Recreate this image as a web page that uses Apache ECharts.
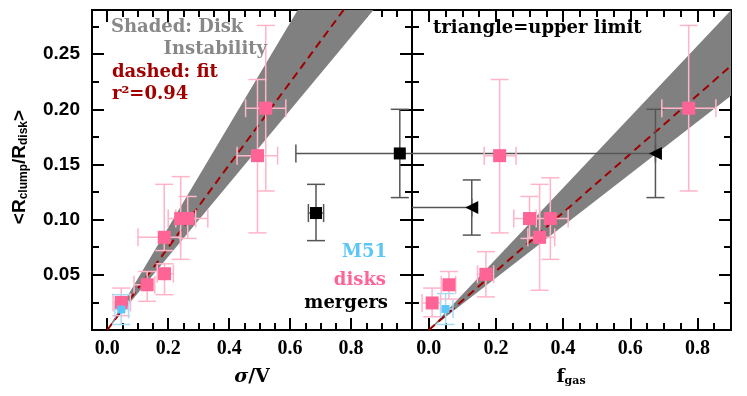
<!DOCTYPE html>
<html>
<head>
<meta charset="utf-8">
<script src="https://cdn.jsdelivr.net/npm/echarts@6/dist/echarts.min.js"></script>
<style>html,body{margin:0;padding:0;background:#fff}#main{width:747px;height:396px}</style>
</head>
<body>
<div id="main"></div>
<script>
// each row: [x, y, xLow, xHigh, yLow, yHigh]
const disksSigma = [
  [0.046, 0.025, 0.019, 0.076, 0.013, 0.038],
  [0.131, 0.041, 0.088, 0.156, 0.026, 0.053],
  [0.188, 0.051, 0.164, 0.217, 0.032, 0.060],
  [0.187, 0.084, 0.101, 0.240, 0.072, 0.132],
  [0.241, 0.101, 0.200, 0.290, 0.064, 0.139],
  [0.264, 0.101, 0.225, 0.330, 0.083, 0.121],
  [0.493, 0.158, 0.426, 0.559, 0.088, 0.227],
  [0.520, 0.201, 0.454, 0.586, 0.126, 0.276]
];
const m51Sigma = [[0.046, 0.0186, 0.025, 0.070, 0.005, 0.032]];
const mergersSigma = [
  [0.685, 0.106, 0.660, 0.710, 0.081, 0.132],
  [0.960, 0.160, 0.619, 1.300, 0.120, 0.200]
];
const disksFgas = [
  [0.010, 0.0245, -0.020, 0.035, 0.012, 0.038],
  [0.060, 0.041, 0.037, 0.080, 0.028, 0.053],
  [0.170, 0.0505, 0.145, 0.193, 0.030, 0.071],
  [0.211, 0.158, 0.165, 0.260, 0.088, 0.227],
  [0.300, 0.101, 0.253, 0.330, 0.083, 0.121],
  [0.362, 0.101, 0.320, 0.415, 0.064, 0.138],
  [0.330, 0.084, 0.295, 0.375, 0.036, 0.132],
  [0.774, 0.201, 0.694, 0.855, 0.126, 0.276]
];
const m51Fgas = [[0.050, 0.019, 0.035, 0.072, 0.005, 0.033]];
// mergers are upper limits in f_gas
const mergersFgas = [
  [0.128, 0.111, -0.200, 0.128, 0.086, 0.136],
  [0.675, 0.160, -0.200, 0.675, 0.120, 0.200]
];
// fit slope and disk-instability band (slopes through the origin)
const fitSigma = 0.374, bandSigma = [0.332, 0.464];
const fitFgas = 0.266, bandFgas = [0.236, 0.322];

const xLabels = [0, 0.2, 0.4, 0.6, 0.8];
const yLabels = [0.05, 0.10, 0.15, 0.20, 0.25];
const xRangeSigma = [-0.05, 1.0];
const xRangeFgas = [-0.05, 0.9];
const yRange = [0, 0.29];

const PINK = '#ff6496', PINK_ERR = '#ffb4c8';
const BLUE = '#5cc6f8', BLUE_ERR = '#a8dcf6';
const DARKRED = '#a00000';

function steps(a, b, s) {
  const out = [];
  for (let v = a; v <= b + 1e-9; v += s) out.push(+v.toFixed(4));
  return out;
}

const noLine = {show: false, onZero: false};
function tick(vals, len) {
  return {inside: true, length: len, customValues: vals, lineStyle: {color: '#000', width: 2}};
}

function xAxes(grid, range) {
  const major = steps(0, range[1], 0.2);
  const minor = steps(range[0], range[1], 0.05);
  const base = {type: 'value', gridIndex: grid, min: range[0], max: range[1],
    axisLine: noLine, splitLine: {show: false}};
  return [
    Object.assign({}, base, {position: 'bottom', axisTick: tick(major, 12),
      axisLabel: {customValues: xLabels, formatter: v => v.toFixed(1), margin: 9,
        fontFamily: 'Liberation Serif', fontWeight: 'bold', fontSize: 20, color: '#000'}}),
    Object.assign({}, base, {position: 'bottom', axisTick: tick(minor, 7), axisLabel: {show: false}}),
    Object.assign({}, base, {position: 'top', axisTick: tick(major, 12), axisLabel: {show: false}}),
    Object.assign({}, base, {position: 'top', axisTick: tick(minor, 7), axisLabel: {show: false}})
  ];
}

function yAxes(grid, showLabels) {
  const major = steps(0, yRange[1], 0.05);
  const minor = steps(0, yRange[1], 0.025);
  const base = {type: 'value', gridIndex: grid, min: yRange[0], max: yRange[1],
    axisLine: noLine, splitLine: {show: false}};
  return [
    Object.assign({}, base, {position: 'left', axisTick: tick(major, 12),
      axisLabel: showLabels ? {customValues: yLabels, formatter: v => v.toFixed(2), margin: 12,
        fontFamily: 'Liberation Sans', fontWeight: 'bold', fontSize: 19, color: '#000'} : {show: false}}),
    Object.assign({}, base, {position: 'left', axisTick: tick(minor, 7), axisLabel: {show: false}}),
    Object.assign({}, base, {position: 'right', axisTick: tick(major, 12), axisLabel: {show: false}}),
    Object.assign({}, base, {position: 'right', axisTick: tick(minor, 7), axisLabel: {show: false}})
  ];
}

// x axis 0 = left panel, x axis 4 = right panel; same for y
function band(xi, slopes, xmax) {
  return {
    type: 'custom', xAxisIndex: xi, yAxisIndex: xi, clip: true, silent: true, z: 1,
    data: [[0, 0]],
    renderItem: (params, api) => {
      const pts = [api.coord([0, 0]), api.coord([xmax, slopes[1] * xmax]), api.coord([xmax, slopes[0] * xmax])];
      return {type: 'polygon', shape: {points: pts}, style: {fill: '#808080'}};
    }
  };
}

function fitLine(xi, slope, xmax) {
  return {
    type: 'line', xAxisIndex: xi, yAxisIndex: xi, z: 2, showSymbol: false, silent: true,
    data: [[0, 0], [xmax, slope * xmax]],
    lineStyle: {color: DARKRED, width: 2, type: [8, 5]}
  };
}

function errors(xi, data, color) {
  return {
    type: 'custom', xAxisIndex: xi, yAxisIndex: xi, clip: true, silent: true, z: 3,
    data: data, encode: {x: 0, y: 1},
    renderItem: (params, api) => {
      const c = api.coord([api.value(0), api.value(1)]);
      const xl = api.coord([api.value(2), api.value(1)])[0];
      const xh = api.coord([api.value(3), api.value(1)])[0];
      const yl = api.coord([api.value(0), api.value(4)])[1];
      const yh = api.coord([api.value(0), api.value(5)])[1];
      const h = 9;
      const segs = [
        [xl, c[1], xh, c[1]], [xl, c[1] - h, xl, c[1] + h], [xh, c[1] - h, xh, c[1] + h],
        [c[0], yl, c[0], yh], [c[0] - h, yl, c[0] + h, yl], [c[0] - h, yh, c[0] + h, yh]
      ];
      return {type: 'group', children: segs.map(s => ({
        type: 'line', shape: {x1: s[0], y1: s[1], x2: s[2], y2: s[3]},
        style: {stroke: color, lineWidth: 1.5}
      }))};
    }
  };
}

function points(xi, data, color, size, symbol, rotate) {
  return {
    type: 'scatter', xAxisIndex: xi, yAxisIndex: xi, z: 4, silent: true,
    data: data.map(d => [d[0], d[1]]),
    symbol: symbol || 'rect', symbolSize: size, symbolRotate: rotate || 0,
    itemStyle: {color: color, opacity: 1}
  };
}

const serif = 'DejaVu Serif';
function label(text, x, y, color, align) {
  return {type: 'text', x: x, y: y, z: 10, style: {text: text, fill: color,
    font: 'bold 18px "' + serif + '"', textAlign: align || 'left', textVerticalAlign: 'middle'}};
}

const chart = echarts.init(document.getElementById('main'));
chart.setOption({
  backgroundColor: '#fff',
  animation: false,
  grid: [
    {left: 92, top: 10, width: 320, height: 320, show: true, borderColor: '#000', borderWidth: 2},
    {left: 412, top: 10, width: 319, height: 320, show: true, borderColor: '#000', borderWidth: 2}
  ],
  xAxis: xAxes(0, xRangeSigma).concat(xAxes(1, xRangeFgas)),
  yAxis: yAxes(0, true).concat(yAxes(1, false)),
  series: [
    band(0, bandSigma, xRangeSigma[1]),
    fitLine(0, fitSigma, xRangeSigma[1]),
    errors(0, mergersSigma, '#555'),
    errors(0, disksSigma, PINK_ERR),
    errors(0, m51Sigma, BLUE_ERR),
    points(0, mergersSigma, '#000', 12),
    points(0, disksSigma, PINK, 13),
    points(0, m51Sigma, BLUE, 8),
    band(4, bandFgas, xRangeFgas[1]),
    fitLine(4, fitFgas, xRangeFgas[1]),
    errors(4, mergersFgas, '#555'),
    errors(4, disksFgas, PINK_ERR),
    errors(4, m51Fgas, BLUE_ERR),
    points(4, mergersFgas, '#000', 13, 'triangle', 90),
    points(4, disksFgas, PINK, 13),
    points(4, m51Fgas, BLUE, 8)
  ],
  graphic: [
    label('Shaded: Disk', 111, 27, '#888'),
    label('Instability', 267, 49, '#888', 'right'),
    label('dashed: fit', 112, 72, DARKRED),
    label('r\u00b2=0.94', 112, 94, DARKRED),
    label('triangle=upper limit', 433, 28, '#000'),
    label('M51', 387, 252, BLUE, 'right'),
    label('disks', 386, 280, PINK, 'right'),
    label('mergers', 388, 303, '#000', 'right'),
    {type: 'text', x: 20, y: 167, rotation: Math.PI / 2, z: 10, style: {
      text: '<R{s|clump}/R{s|disk}>', textAlign: 'center', textVerticalAlign: 'middle',
      font: 'bold 19px "Liberation Sans"', fill: '#000',
      rich: {s: {fontSize: 12, fontWeight: 'bold', fontFamily: 'Liberation Sans', lineHeight: 8, verticalAlign: 'bottom'}}
    }},
    {type: 'text', x: 252, y: 377, z: 10, style: {
      text: '{i|\u03c3}/V', textAlign: 'center', textVerticalAlign: 'middle',
      font: 'bold 19px "' + serif + '"', fill: '#000',
      rich: {i: {fontStyle: 'italic', fontWeight: 'bold', fontSize: 19, fontFamily: serif}}
    }},
    {type: 'text', x: 571, y: 377, z: 10, style: {
      text: 'f{s|gas}', textAlign: 'center', textVerticalAlign: 'middle',
      font: 'bold 19px "' + serif + '"', fill: '#000',
      rich: {s: {fontSize: 11, fontWeight: 'bold', fontFamily: serif, lineHeight: 6, verticalAlign: 'bottom'}}
    }}
  ]
});
</script>
</body>
</html>
